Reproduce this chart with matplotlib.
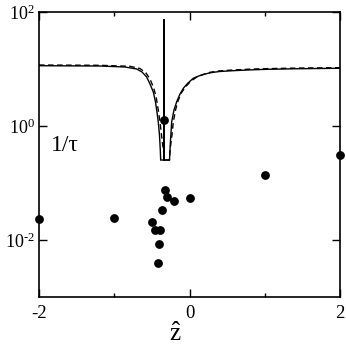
import matplotlib
matplotlib.use("Agg")
import matplotlib.pyplot as plt
from matplotlib.ticker import FixedLocator, NullLocator, FixedFormatter

plt.rcParams['font.family'] = ['Liberation Serif', 'DejaVu Serif']
plt.rcParams['mathtext.fontset'] = 'custom'
plt.rcParams['mathtext.rm'] = 'Liberation Serif'
plt.rcParams['mathtext.it'] = 'Liberation Serif:italic'
plt.rcParams['axes.unicode_minus'] = False

# Measured points
pts_z = [-2.0, -1.0, -0.50, -0.46, -0.39, -0.405, -0.414, -0.361, -0.326, -0.303,
         -0.206, 0.0, 1.0, 2.0, -0.339]
pts_rate = [0.0231, 0.024, 0.021, 0.015, 0.0148, 0.0085, 0.0040, 0.034, 0.075, 0.057,
            0.048, 0.055, 0.138, 0.31, 1.27]

# Solid curve
solid_z = [-2.0, -1.189, -0.857, -0.702, -0.631, -0.569, -0.525, -0.481, -0.452, -0.432,
           -0.415, -0.399, -0.388, -0.383, -0.339, -0.339, -0.339, -0.266, -0.252, -0.237,
           -0.206, -0.170, -0.126, -0.082, -0.020, 0.050, 0.140, 0.229, 0.300, 0.405,
           0.578, 0.804, 1.030, 1.468, 2.0]
solid_rate = [11.42, 11.29, 10.84, 10.0, 8.86, 7.24, 5.46, 3.95, 2.64, 1.76,
              1.18, 0.695, 0.379, 0.253, 0.253, 75.4, 0.253, 0.253, 0.568, 1.18,
              1.91, 2.67, 3.64, 4.59, 5.68, 6.87, 7.69, 8.30, 8.70, 9.05,
              9.34, 9.65, 9.88, 10.12, 10.3]

# Dashed curve
dash_z = [-2.0, -1.189, -0.791, -0.658, -0.578, -0.525, -0.481, -0.445, -0.415, -0.392,
          -0.372, -0.348, -0.326, -0.266, -0.259, -0.233, -0.215, -0.186, -0.153, -0.113,
          -0.060, 0.007, 0.086, 0.179, 0.272, 0.405, 0.578, 0.804, 1.030, 1.468, 2.0]
dash_rate = [11.75, 11.61, 11.15, 10.2, 8.51, 6.68, 4.83, 3.36, 1.91, 1.18,
             0.695, 0.379, 0.253, 0.253, 0.379, 0.695, 1.18, 1.91, 2.75, 3.72,
             4.74, 5.92, 7.10, 8.01, 8.75, 9.3, 9.6, 9.95, 10.15, 10.4, 10.55]

xticks = [-2, 0, 2]
xtick_labels = ['-2', '0', '2']
xminor = [-1, 1]
yticks = [1e-2, 1e0, 1e2]
ytick_labels = [r'$10^{\text{-}2}$', r'$10^{0}$', r'$10^{2}$']

fig = plt.figure(figsize=(3.46, 3.47), dpi=100)
ax = fig.add_axes([0.1127, 0.1441, 0.87, 0.8213])

ax.plot(solid_z, solid_rate, color='black', lw=1.0, solid_joinstyle='miter')
ax.plot(dash_z, dash_rate, color='black', lw=1.0, ls=(0, (4, 2.5)))
ax.plot(pts_z, pts_rate, 'o', color='black', ms=5.3, clip_on=False, zorder=5)

ax.set_yscale('log')
ax.set_xlim(-2, 2)
ax.set_ylim(1e-3, 1e2)

ax.xaxis.set_major_locator(FixedLocator(xticks))
ax.xaxis.set_major_formatter(FixedFormatter(xtick_labels))
ax.xaxis.set_minor_locator(FixedLocator(xminor))
ax.yaxis.set_major_locator(FixedLocator(yticks))
ax.yaxis.set_major_formatter(FixedFormatter(ytick_labels))
ax.yaxis.set_minor_locator(NullLocator())

ax.tick_params(which='both', direction='in', top=True, right=True, labelsize=13.5, width=1.0)
ax.tick_params(axis='y', which='major', length=6, pad=3, labelsize=13)
ax.tick_params(axis='x', which='major', length=6, pad=6)
ax.tick_params(which='minor', length=3)
for s in ax.spines.values():
    s.set_linewidth(1.2)

fig.text(175 / 346, 6 / 347, r'$\hat{\mathrm{z}}$', fontsize=18, ha='center', va='baseline')
ax.text(-1.84, 0.46, '1/τ', fontsize=17, va='center', ha='left')

fig.savefig('out.png', dpi=100)
